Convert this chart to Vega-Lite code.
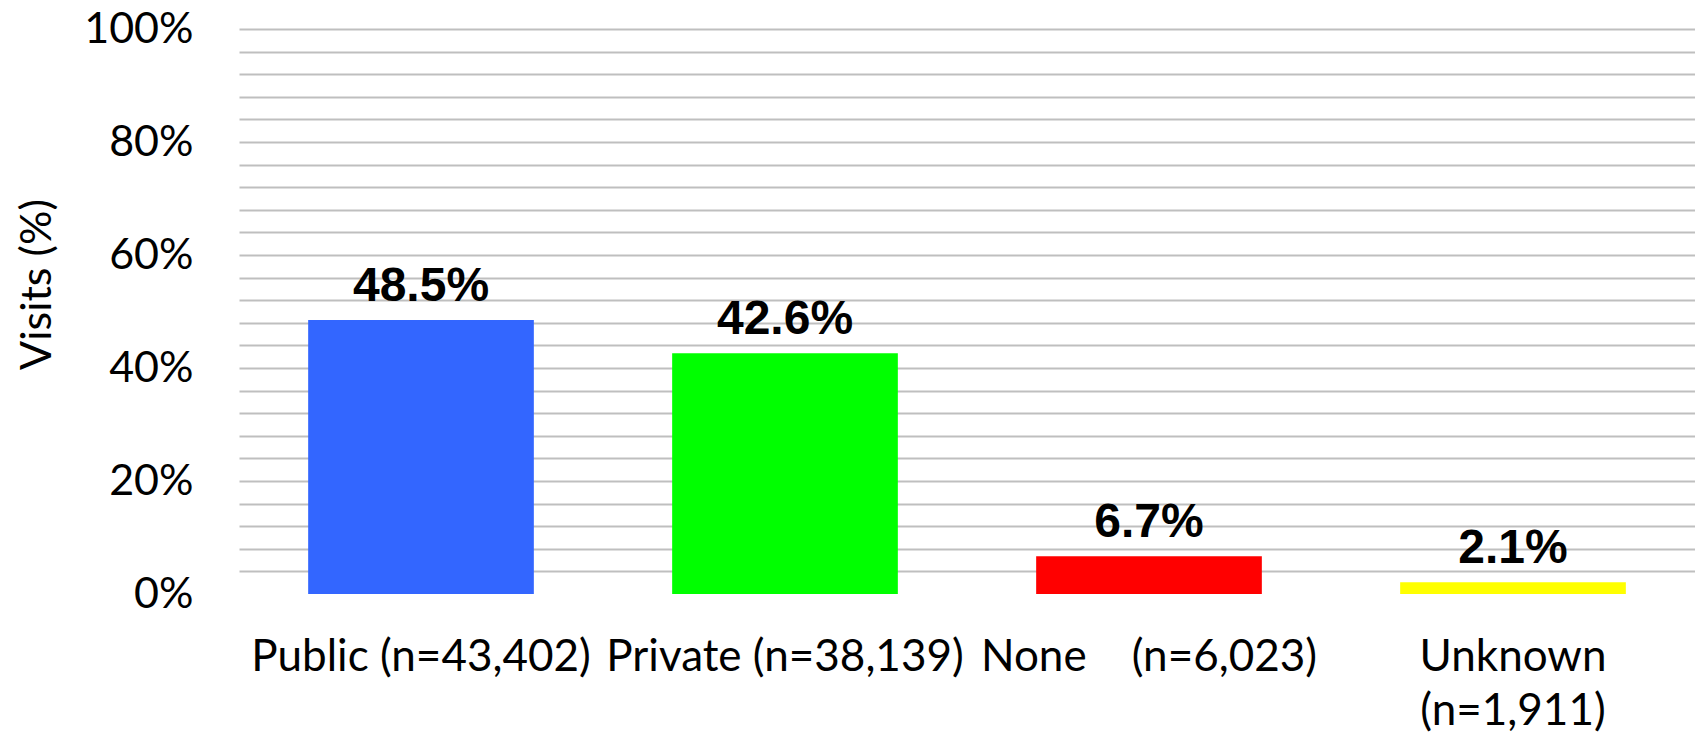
{
  "$schema": "https://vega.github.io/schema/vega-lite/v6.json",
  "width": 1456,
  "height": 565,
  "autosize": {"type": "none"},
  "padding": {"left": 239, "top": 29, "right": 0, "bottom": 143},
  "background": "white",
  "config": {"view": {"stroke": null}},
  "data": {
    "values": [
      {"category": "Public (n=43,402)", "visits": 48.5, "label": "48.5%"},
      {"category": "Private (n=38,139)", "visits": 42.6, "label": "42.6%"},
      {"category": "None\u00a0\u00a0\u00a0\u00a0(n=6,023)", "visits": 6.7, "label": "6.7%"},
      {"category": "Unknown (n=1,911)", "visits": 2.1, "label": "2.1%"}
    ]
  },
  "encoding": {
    "x": {
      "field": "category",
      "type": "nominal",
      "sort": null,
      "scale": {"paddingInner": 0.38, "paddingOuter": 0.19},
      "axis": {
        "title": null,
        "domain": false,
        "ticks": false,
        "labelAngle": 0,
        "labelFont": "Lato",
        "labelFontSize": 44,
        "labelColor": "black",
        "labelPadding": 41,
        "labelLimit": 1000,
        "labelLineHeight": 54,
        "labelExpr": "datum.label == 'Unknown (n=1,911)' ? ['Unknown', '(n=1,911)'] : datum.label"
      }
    },
    "y": {
      "field": "visits",
      "type": "quantitative",
      "scale": {"domain": [0, 100], "nice": false},
      "axis": {
        "values": [0, 4, 8, 12, 16, 20, 24, 28, 32, 36, 40, 44, 48, 52, 56, 60, 64, 68, 72, 76, 80, 84, 88, 92, 96, 100],
        "labelExpr": "datum.value % 20 == 0 ? datum.value + '%' : ''",
        "domain": false,
        "ticks": false,
        "grid": true,
        "gridColor": {"condition": {"test": "datum.value == 0", "value": "transparent"}, "value": "#bfbfbf"},
        "gridWidth": 2,
        "labelFont": "Lato",
        "labelFontSize": 43,
        "labelColor": "black",
        "labelPadding": 46,
        "labelBaseline": "middle",
        "title": "Visits (%)",
        "titleFont": "Lato",
        "titleFontSize": 43,
        "titleFontWeight": "normal",
        "titleColor": "black",
        "titleAngle": 270,
        "titleAlign": "center",
        "titleBaseline": "middle",
        "titleX": -202,
        "titleY": 255
      }
    }
  },
  "layer": [
    {
      "mark": {"type": "bar"},
      "encoding": {
        "color": {
          "field": "category",
          "type": "nominal",
          "sort": null,
          "scale": {"range": ["#3366FF", "#00FF00", "#FF0000", "#FFFF00"]},
          "legend": null
        }
      }
    },
    {
      "mark": {
        "type": "text",
        "baseline": "alphabetic",
        "dy": -19,
        "font": "Liberation Sans",
        "fontWeight": "bold",
        "fontSize": 48,
        "color": "black"
      },
      "encoding": {"text": {"field": "label"}}
    }
  ]
}
